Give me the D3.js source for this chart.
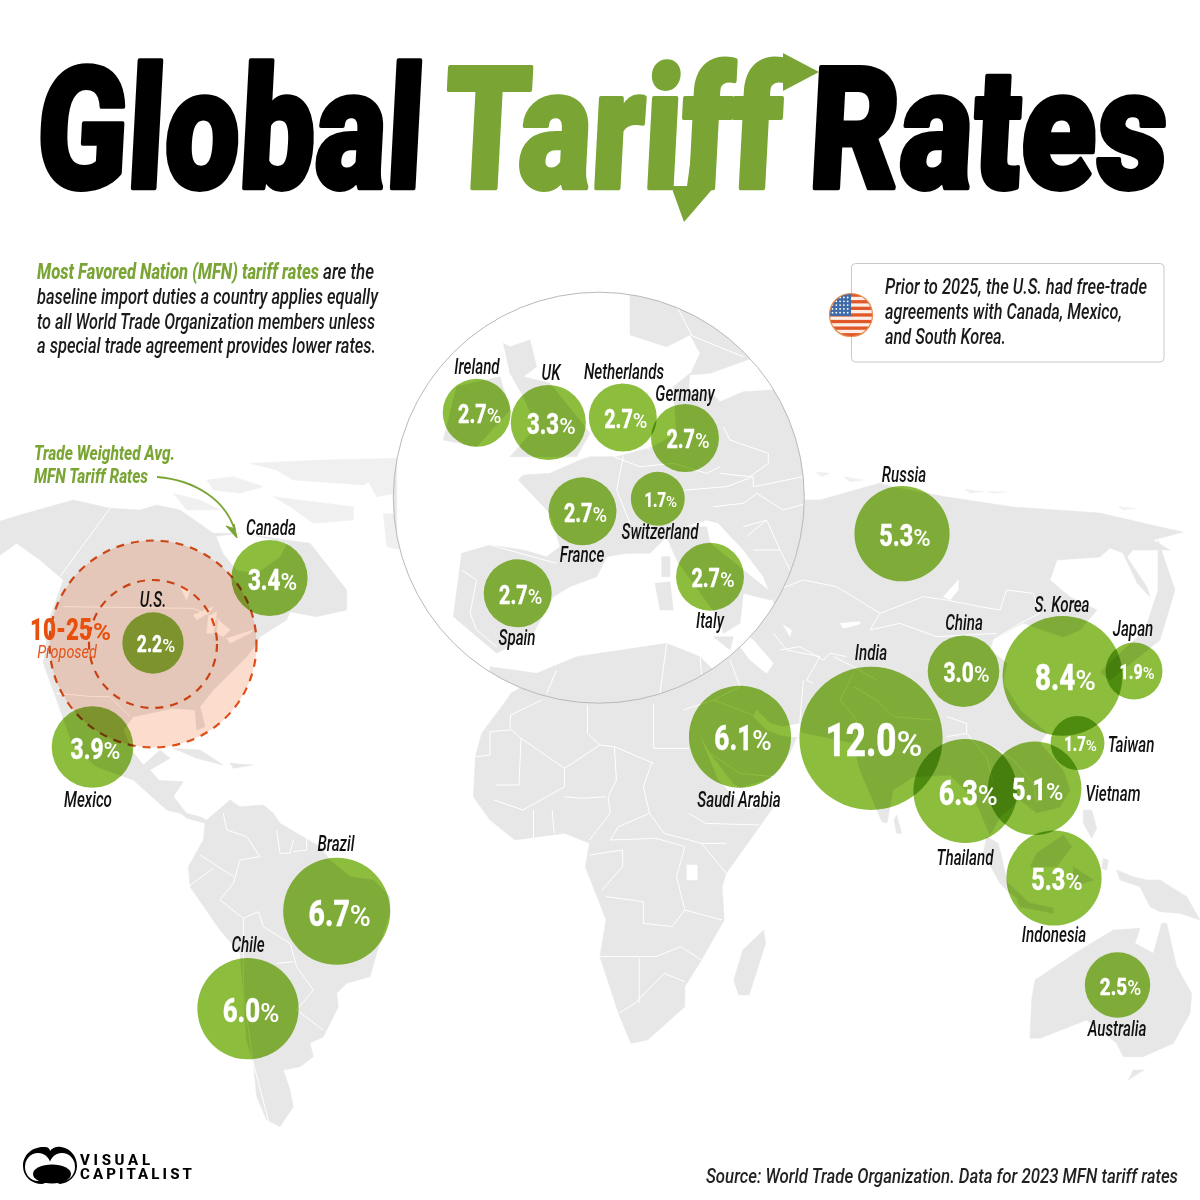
<!DOCTYPE html>
<html><head><meta charset="utf-8">
<script src="https://cdn.jsdelivr.net/npm/d3@7"></script>
<style>
html,body{margin:0;padding:0;background:#fff}
svg{display:block}
text{font-family:"Roboto",sans-serif}
.lbl{font-style:italic;font-size:22px;font-weight:500;fill:#111;text-anchor:middle}
.para{font-style:italic;font-size:22px;font-weight:500;fill:#1a1a1a}
</style></head><body>
<svg id="c" width="1200" height="1200" viewBox="0 0 1200 1200"></svg>
<script>
// ---------- data ----------
const countries = ["Canada","U.S.","Mexico","Russia","China","S. Korea","Japan","India","Taiwan","Vietnam","Thailand","Indonesia","Australia","Saudi Arabia","Brazil","Chile","Ireland","UK","Netherlands","Germany","France","Switzerland","Italy","Spain"];
const rates = [3.4,2.2,3.9,5.3,3.0,8.4,1.9,12.0,1.7,5.1,6.3,5.3,2.5,6.1,6.7,6.0,2.7,3.3,2.7,2.7,2.7,1.7,2.7,2.7];
// map anchors of the bubbles and their name labels (picture units)
const anchorX = [269.5,153,92.5,902,963.5,1062.5,1134,871,1077.5,1034.7,965.3,1054,1117.5,740,336.7,248,476.7,548.3,622.8,685,582.5,657.8,710,517.7];
const anchorY = [578,643,747,533.7,671.3,675.8,671,738.3,743,788.3,791,878,985,736.7,911.3,1008.7,412.8,422.5,417.5,438,511.3,498.8,576.7,593.3];
const nameX = [271,153,88,904,964,1062,1133,871,1131,1113,965,1054,1117,739,336,248,477,551,624,685,582,660,710,517];
const nameY = [535,607,807,482,630,612,636,660,752,801,865,942,1036,807,851,952,374,380,379,401,562,539,628,645];
const proposedRange = "10-25";
const titleWords = ["Global","Tariff","Rates"];
const introLines = ["baseline import duties a country applies equally","to all World Trade Organization members unless","a special trade agreement provides lower rates."];
const noteLines = ["Prior to 2025, the U.S. had free-trade","agreements with Canada, Mexico,","and South Korea."];

// ---------- base map outlines, each in the frame of a picture region ----------
const frames = {
  abs:[0,0,1,1], na:[0,430,1/3,1/3], af:[150,680,1/2.412,1/3], sa:[150,780,1/3,1/3],
  as:[780,450,1/3,1/3], au:[960,780,1/3,1/3], me:[640,620,1/3,1/3], eu:[390,260,1/3,1/3]
};
const worldLand = [
 ["na",[[-20,280],[60,255],[220,210],[330,235],[420,240],[470,225],[540,240],[640,310],[720,310],[860,330],[930,340],[1040,480],[1040,540],[950,560],[870,545],[860,570],[780,620],[770,640],[740,680],[700,720],[640,780],[600,830],[615,890],[590,900],[585,840],[520,835],[400,860],[370,900],[395,960],[430,1005],[480,960],[510,985],[450,1020],[520,1100],[560,1155],[500,1140],[400,1050],[290,1010],[220,950],[170,810],[130,700],[150,560],[190,450],[120,390],[50,340],[-20,390]]],
 ["sa",[[100,5],[70,50],[110,100],[150,110],[170,120],[240,60],[270,80],[340,75],[370,100],[390,130],[450,165],[510,200],[540,240],[600,290],[670,300],[720,350],[720,400],[680,520],[660,590],[590,610],[560,640],[565,680],[520,770],[480,790],[490,830],[450,860],[400,870],[420,930],[430,980],[390,1040],[350,1020],[320,950],[310,850],[290,780],[280,640],[270,520],[210,450],[120,320],[115,260],[160,180],[165,130],[110,115],[70,80],[40,30],[0,0]]],
 ["na",[[520,955],[600,960],[670,1005],[590,985]]],
 ["na",[[690,1000],[760,1005],[700,1015]]],
 ["af",[[870,40],[1000,-50],[1300,-50],[1300,50],[1295,70],[1330,180],[1370,300],[1440,390],[1510,370],[1470,440],[1390,580],[1380,620],[1385,720],[1330,840],[1290,920],[1290,980],[1200,1080],[1160,1090],[1130,1000],[1085,830],[1100,720],[1050,560],[1060,490],[1000,460],[880,480],[820,420],[780,350],[785,230],[800,160],[860,60]]],
 ["af",[[1480,750],[1485,790],[1445,945],[1420,945],[1408,900],[1430,810]]],
 ["abs",[[600,520],[760,500],[805,500],[820,500],[880,483],[893,487],[947,497],[1013,507],[1100,513],[1160,527],[1183,532],[1153,540],[1170,550],[1133,550],[1127,557],[1147,587],[1150,597],[1137,583],[1123,553],[1110,548],[1100,557],[1057,560],[1050,580],[1070,597],[1097,610],[1080,630],[1063,637],[1023,623],[993,640],[990,650],[1007,663],[1003,683],[1020,710],[1047,733],[1040,743],[1063,770],[1070,790],[1060,807],[1037,813],[1020,800],[1000,817],[990,835],[975,800],[950,775],[913,777],[893,790],[887,823],[882,822],[860,770],[853,743],[800,732],[790,727],[797,737],[790,753],[773,777],[740,788],[733,783],[710,753],[690,717],[683,707],[680,690],[660,680],[600,600]]],
 ["me",[[770,585],[785,640],[770,640],[762,600]]],
 ["au",[[80,170],[115,190],[150,340],[120,310],[70,220]]],
 ["au",[[230,220],[310,165],[335,200],[290,260],[210,260]]],
 ["au",[[145,310],[230,390],[190,370],[130,320]]],
 ["au",[[170,360],[280,385],[280,400],[180,380]]],
 ["au",[[340,260],[400,300],[340,320]]],
 ["au",[[470,270],[520,290],[560,300],[600,300],[680,350],[720,420],[660,400],[600,395],[570,380],[540,320],[480,300]]],
 ["au",[[370,90],[395,90],[410,145],[395,175],[370,130]]],
 ["au",[[430,235],[445,240],[440,270],[425,265]]],
 ["au",[[225,600],[345,520],[410,480],[460,450],[540,445],[525,490],[580,520],[605,430],[620,430],[650,560],[695,640],[690,700],[640,790],[550,830],[490,830],[470,790],[380,720],[240,775],[210,775],[215,660]]],
 ["au",[[520,870],[552,870],[505,900]]],
 ["abs",[[1158,540],[1175,590],[1160,640],[1110,680],[1100,672],[1145,630],[1158,590]]]
];
const arcticLand = [
 ["na",[[620,150],[700,140],[790,170],[720,190],[640,180]]],
 ["na",[[520,190],[600,210],[660,240],[560,240]]],
 ["na",[[820,200],[1060,230],[1060,270],[940,280],[870,230]]],
 ["na",[[750,100],[960,90],[1200,85],[1200,110],[1090,165],[880,150],[830,120]]],
 ["na",[[1080,110],[1300,70],[1300,170],[1130,200]]],
 ["na",[[1150,250],[1300,260],[1300,380],[1160,350]]],
 ["as",[[105,65],[150,70],[125,80]]],["as",[[190,80],[250,90],[210,95]]],
 ["as",[[555,118],[610,125],[570,130]]],["as",[[620,125],[680,125],[640,130]]],
 ["as",[[1015,170],[1065,175],[1030,180]]]
];
const worldWater = [
 ["na",[[650,320],[730,310],[860,340],[840,380],[770,430],[710,420],[670,370]]],
 ["na",[[625,560],[650,545],[640,610],[620,610]]],
 ["na",[[580,555],[640,530],[630,545],[590,570]]],
 ["na",[[655,570],[690,600],[670,620],[650,610]]],
 ["na",[[680,625],[760,600],[750,610],[690,640]]],
 ["na",[[540,470],[570,480],[560,510]]],
 ["me",[[285,20],[340,60],[400,130],[380,160],[330,120],[300,80]]],
 ["me",[[430,15],[455,30],[450,50]]],
 ["me",[[350,270],[390,310],[430,320],[480,310],[480,350],[455,350],[420,345],[380,330],[340,290]]],
 ["as",[[490,440],[535,390],[535,420],[510,450]]],
 ["as",[[180,520],[240,515],[240,522],[190,535]]],
 ["af",[[1295,555],[1320,555],[1320,600],[1295,600]]]
];
const worldBorders = [
 ["na",[[330,235],[180,440]]],["na",[[190,530],[580,535],[660,570]]],
 ["na",[[170,790],[280,800],[330,800],[390,860]]],
 ["af",[[1000,265],[895,175],[868,145],[870,105],[945,60]]],
 ["af",[[1000,265],[1085,195],[1120,200],[1215,250]]],
 ["af",[[1055,75],[1055,160],[1085,195]]],
 ["af",[[1215,205],[1215,70]]],["af",[[1215,205],[1300,205]]],
 ["af",[[785,230],[820,225],[820,155],[870,150]]],
 ["af",[[835,315],[890,315],[895,175]]],
 ["af",[[1000,265],[1000,320],[900,390],[830,360]]],
 ["af",[[1120,200],[1125,300],[1105,350],[1110,400],[1060,480]]],
 ["af",[[1000,350],[1040,355],[1100,350]]],
 ["af",[[925,390],[925,480]]],["af",[[970,390],[975,460]]],
 ["af",[[1210,250],[1190,320],[1205,400],[1240,460],[1330,490],[1390,490]]],
 ["af",[[1205,400],[1130,440],[1110,480]]],
 ["af",[[1110,480],[1220,475],[1290,500],[1270,590],[1290,690],[1320,700],[1380,720]]],
 ["af",[[1080,830],[1220,830]]],["af",[[1180,835],[1180,970]]],
 ["af",[[1100,650],[1190,665],[1190,730],[1260,740],[1290,690]]],
 ["af",[[1220,830],[1280,800],[1330,840]]],["af",[[1240,880],[1290,905]]],
 ["af",[[1240,880],[1170,970],[1130,1000]]],
 ["af",[[1330,490],[1390,580]]],["af",[[1300,400],[1340,430],[1470,435]]],
 ["af",[[1060,525],[1140,510],[1140,560],[1090,630]]],
 ["sa",[[220,100],[230,150],[290,170],[330,230],[270,240],[250,310],[210,360],[280,415],[325,395],[340,440],[420,490],[440,560],[490,630],[440,690]]],
 ["sa",[[150,225],[220,270],[250,290]]],["sa",[[115,320],[190,265]]],
 ["sa",[[380,150],[390,220],[420,220],[430,180]]],["sa",[[430,215],[470,210],[470,165]]],
 ["sa",[[440,690],[520,750]]],["sa",[[280,415],[280,640],[310,850],[360,1040]]],
 ["sa",[[380,550],[430,545]]],
 ["as",[[-60,440],[70,390],[170,410],[300,490],[430,440],[500,450],[600,470],[660,480],[680,420],[760,430],[780,490],[720,520],[640,570]]],
 ["as",[[300,490],[270,540],[360,520],[470,560],[650,550]]],
 ["as",[[0,600],[60,590],[130,630],[150,610],[200,620]]],
 ["as",[[160,620],[220,650],[290,690]]],
 ["as",[[500,800],[560,820],[560,850],[500,860]]],
 ["as",[[640,890],[700,930],[760,1000],[770,1060]]],
 ["as",[[560,850],[620,920],[640,1000]]],
 ["me",[[400,40],[440,90],[540,110],[500,180],[520,190]]],
 ["me",[[270,120],[300,200],[220,240],[300,270],[350,290]]],
 ["me",[[210,400],[300,460],[400,470]]],
 ["me",[[490,180],[480,300],[480,340]]],
 ["me",[[640,160],[600,240],[650,300],[640,370]]],
 ["me",[[640,200],[710,240],[760,290],[880,300]]],
 ["me",[[130,270],[220,240]]]
];
const insetLand = [
 [[190,1070],[215,880],[300,855],[400,870],[470,890],[510,860],[480,760],[385,660],[400,645],[480,640],[570,600],[600,590],[680,590],[790,560],[860,520],[850,380],[900,340],[895,400],[960,395],[990,425],[1060,395],[1300,380],[1300,1050],[1240,1090],[1210,1130],[1150,1120],[1180,1100],[1120,950],[1060,870],[985,790],[950,780],[880,800],[830,830],[780,880],[710,880],[650,890],[620,950],[540,980],[490,1010],[430,1120],[320,1180]],
 [[830,830],[880,800],[950,800],[960,850],[1060,930],[1160,1010],[1140,1020],[1060,1000],[1050,1090],[1000,1120],[990,1080],[860,900]],
 [[340,250],[360,260],[420,240],[440,320],[400,350],[480,370],[600,520],[560,590],[360,590],[440,500],[400,410],[360,340]],
 [[200,380],[330,350],[360,450],[260,560],[160,540]],
 [[720,105],[1000,100],[1100,290],[960,340],[900,345],[930,280],[900,225],[830,260],[720,225]],
 [[300,1220],[440,1240],[560,1190],[830,1150],[930,1190],[1000,1260],[1100,1220],[1200,1300],[1300,1400],[300,1400]],
 [[815,890],[840,890],[840,950],[815,950]],
 [[795,970],[840,965],[850,1050],[810,1050]],
 [[970,1130],[1030,1130],[1020,1170]],
 [[-40,590],[20,600],[20,880],[-40,860]]
];
const insetBorders = [
 [[670,590],[750,620],[850,610],[950,640],[990,620]],
 [[1000,500],[1020,540],[1135,580],[1135,610],[1080,650],[990,640]],
 [[885,690],[1010,680],[1090,650],[1090,680],[1240,650]],
 [[970,740],[1060,730],[1100,700],[1180,750],[1250,730]],
 [[1060,800],[1130,780],[1170,870]],
 [[1130,780],[1070,830]],
 [[1090,870],[1170,870],[1200,930]],
 [[215,930],[260,960],[240,1060],[260,1110],[320,1160]],
 [[300,855],[500,910]],
 [[840,100],[905,225]],
 [[500,1230],[470,1300]],[[830,1150],[810,1300]],[[930,1190],[940,1300]],
 [[640,470],[780,570]],
 [[700,590],[680,690],[720,790]],
 [[900,225],[1060,290]]
];

// ---------- helpers ----------
const svg = d3.select("#c");
const GREEN="#7aa535", ORANGE="#e2531a";
const px = (f,p)=>{const [x0,y0,sx,sy]=frames[f];
  const X=d3.scaleLinear().domain([0,1]).range([x0,x0+sx]), Y=d3.scaleLinear().domain([0,1]).range([y0,y0+sy]);
  return p.map(d=>[X(d[0]),Y(d[1])]);};
const line=d3.line().curve(d3.curveLinear);
const poly=(g,f,p,fill)=>g.append("path").attr("d",line(px(f,p))+"Z").attr("fill",fill).attr("stroke",fill).attr("stroke-width",.5).attr("stroke-linejoin","round");
const stroke=(g,f,p)=>g.append("path").attr("d",line(px(f,p))).attr("fill","none").attr("stroke","#fff").attr("stroke-width",1);
const LAND="#e7e7e7";

// ---------- world map ----------
const gMap=svg.append("g");
arcticLand.forEach(([f,p])=>poly(gMap,f,p,"#f0f0f0"));
worldLand.forEach(([f,p])=>poly(gMap,f,p,LAND));
worldBorders.forEach(([f,p])=>stroke(gMap,f,p));
worldWater.forEach(([f,p])=>poly(gMap,f,p,"#fff"));

// ---------- Europe inset ----------
const insetC=[598.8,497.7], insetR=205.5;
svg.append("defs").append("clipPath").attr("id","ins").append("circle").attr("cx",insetC[0]).attr("cy",insetC[1]).attr("r",insetR);
svg.append("circle").attr("cx",insetC[0]).attr("cy",insetC[1]).attr("r",insetR).attr("fill","#fff");
const gIns=svg.append("g").attr("clip-path","url(#ins)");
insetLand.forEach(p=>poly(gIns,"eu",p,LAND));
insetBorders.forEach(p=>stroke(gIns,"eu",p));
svg.append("circle").attr("cx",insetC[0]).attr("cy",insetC[1]).attr("r",insetR).attr("fill","none").attr("stroke","#b9b9b9").attr("stroke-width",1);

// ---------- proposed rings ----------
const r=d3.scaleSqrt().domain([0,12]).range([0,71.6]);
const ringC=[153,644];
svg.append("circle").attr("cx",ringC[0]).attr("cy",ringC[1]).attr("r",103.5).attr("fill","#fcdccc").style("mix-blend-mode","multiply");

// ---------- bubbles ----------
const gB=svg.append("g");
gB.selectAll("circle").data(countries).join("circle")
  .attr("cx",(d,i)=>anchorX[i]).attr("cy",(d,i)=>anchorY[i]).attr("r",(d,i)=>r(rates[i]))
  .attr("fill","#8cbd3d").style("mix-blend-mode","multiply");

// dashed rings drawn over bubbles
[103.5,64].forEach(R=>svg.append("circle").attr("cx",ringC[0]).attr("cy",ringC[1]).attr("r",R).attr("fill","none").attr("stroke",ORANGE).attr("stroke-width",2.2).attr("stroke-dasharray","8 7").style("mix-blend-mode","multiply"));

// value labels: condensed bold number, lighter wider percent sign
const capSize=d3.scaleLinear().domain([27,34,38,48,54,60,72]).range([14,18.5,21,22,27,26,33]);
const gV=svg.append("g").attr("fill","#fff");
countries.forEach((c,i)=>{
  const cap=capSize(r(rates[i])), fs=cap/0.711, k=0.76;
  const g=gV.append("g");
  const n=g.append("text").attr("font-size",fs).attr("font-weight",800).attr("stroke","#fff").attr("stroke-width",fs*0.012).text(rates[i].toFixed(1));
  const p=g.append("text").attr("font-size",fs*.78).attr("font-weight",500).text("%");
  const w1=n.node().getComputedTextLength()*k, w2=p.node().getComputedTextLength()*.98;
  const x0=anchorX[i]+3-(w1+w2)/2, y=anchorY[i]+cap/2+1;
  n.attr("transform",`translate(${x0},${y}) scale(${k},1)`);
  p.attr("transform",`translate(${x0+w1},${y}) scale(.98,1)`);
});
// name labels
svg.append("g").selectAll("text").data(countries).join("text").attr("class","lbl")
  .attr("transform",(d,i)=>`translate(${nameX[i]},${nameY[i]}) scale(.69,1)`).text(d=>d);

// ---------- title ----------
const titleT=svg.append("g");
const titleSpec=[[34,387,"#000"],[441,338,GREEN],[807,358,"#000"]];
titleWords.forEach((w,i)=>{
  titleT.append("text").attr("transform",`translate(${titleSpec[i][0]},188) skewX(-3)`)
   .attr("textLength",titleSpec[i][1]).attr("lengthAdjust","spacingAndGlyphs")
   .style("font-weight",900).attr("font-size",170)
   .attr("fill",titleSpec[i][2]).attr("stroke",titleSpec[i][2]).attr("stroke-width",4.5).attr("stroke-linejoin","round").text(w);
});
// arrows on Tariff
titleT.append("path").attr("d","M783 53L819 72L783 91L783 80C770 80 768 88 766 100L752 100C754 78 762 64 783 64Z").attr("fill",GREEN);
titleT.append("path").attr("d","M671 186L687 186L692 150L705 150L702 186L715 186L684 222Z").attr("fill",GREEN);

// ---------- intro paragraph ----------
svg.append("text").attr("class","para").attr("x",37).attr("y",279).attr("textLength",282).attr("lengthAdjust","spacingAndGlyphs").style("font-weight",800).style("fill",GREEN).text("Most Favored Nation (MFN) tariff rates");
svg.append("text").attr("class","para").attr("x",323).attr("y",279).attr("textLength",51).attr("lengthAdjust","spacingAndGlyphs").text("are the");
const introW=[341,338,339];
introLines.forEach((l,i)=>svg.append("text").attr("class","para").attr("x",37).attr("y",304+i*24.7).attr("textLength",introW[i]).attr("lengthAdjust","spacingAndGlyphs").text(l));

// ---------- note box ----------
svg.append("rect").attr("x",851.5).attr("y",263.5).attr("width",312.5).attr("height",98.5).attr("rx",4).attr("fill","#fff").attr("stroke","#c8c8c8");
const noteW=[262,237,121];
noteLines.forEach((l,i)=>svg.append("text").attr("class","para").attr("x",885).attr("y",294+i*25).attr("textLength",noteW[i]).attr("lengthAdjust","spacingAndGlyphs").text(l));
// flag
const flagC=[851,315], flagR=21.5;
const defs=svg.select("defs");
defs.append("clipPath").attr("id","fl").append("circle").attr("cx",flagC[0]).attr("cy",flagC[1]).attr("r",flagR);
const fl=svg.append("g").attr("clip-path","url(#fl)");
fl.append("rect").attr("x",flagC[0]-flagR).attr("y",flagC[1]-flagR).attr("width",flagR*2).attr("height",flagR*2).attr("fill","#fbeee6");
d3.range(7).forEach(i=>fl.append("rect").attr("x",flagC[0]-flagR).attr("y",flagC[1]-flagR+i*6.6).attr("width",flagR*2).attr("height",3.3).attr("fill","#e0582a"));
fl.append("rect").attr("x",flagC[0]-flagR).attr("y",flagC[1]-flagR).attr("width",flagR).attr("height",flagR+1).attr("fill","#3e6aa8");
d3.range(5).forEach(a=>d3.range(5).forEach(b=>fl.append("circle").attr("cx",flagC[0]-flagR+3+a*3.8).attr("cy",flagC[1]-flagR+4+b*3.8).attr("r",.9).attr("fill","#fff")));
svg.append("circle").attr("cx",flagC[0]).attr("cy",flagC[1]).attr("r",flagR).attr("fill","none").attr("stroke","#e88a4a").attr("stroke-width",1.2);

// ---------- annotation ----------
const ann=svg.append("g").style("fill",GREEN).style("font-weight",800).style("font-style","italic").attr("font-size",21);
ann.append("text").attr("x",34).attr("y",460).attr("textLength",141).attr("lengthAdjust","spacingAndGlyphs").text("Trade Weighted Avg.");
ann.append("text").attr("x",34).attr("y",483).attr("textLength",114).attr("lengthAdjust","spacingAndGlyphs").text("MFN Tariff Rates");
svg.append("path").attr("d","M157 477C195 480 226 500 235 531").attr("fill","none").attr("stroke",GREEN).attr("stroke-width",1.8);
svg.append("path").attr("d","M237 538L226 526L235 529L234 524Z").attr("fill",GREEN).attr("stroke",GREEN);

// proposed
svg.append("text").attr("x",30).attr("y",640).attr("textLength",62).attr("lengthAdjust","spacingAndGlyphs").attr("font-size",32).attr("font-weight",900).attr("fill","#e8500e").text(proposedRange);
svg.append("text").attr("x",93).attr("y",640).attr("textLength",18).attr("lengthAdjust","spacingAndGlyphs").attr("font-size",23).attr("font-weight",700).attr("fill","#e8500e").text("%");
svg.append("text").attr("transform","translate(67,657.5) scale(.8,1)").attr("text-anchor","middle").attr("font-size",18).attr("font-style","italic").attr("fill",ORANGE).text("Proposed");

// ---------- logo and source ----------
const logo=svg.append("g");
logo.append("path").attr("d","M23 1166C23 1152 36 1146 45 1147C48 1147 50 1149 50 1151C52 1148 57 1146 61 1147C70 1148 77 1156 77 1166C77 1176 69 1183 60 1184L52 1181L42 1184C32 1184 23 1177 23 1166Z").attr("fill","#000");
logo.append("ellipse").attr("cx",38).attr("cy",1167).attr("rx",13).attr("ry",14).attr("fill","#fff");
logo.append("ellipse").attr("cx",62).attr("cy",1167).attr("rx",13).attr("ry",14).attr("fill","#fff");
logo.append("ellipse").attr("cx",52).attr("cy",1174).attr("rx",19).attr("ry",9.5).attr("fill","#000");
const lt=svg.append("g").style("font-family","Inter").style("font-weight",800).attr("font-size",15).attr("fill","#000");
lt.append("text").attr("x",80).attr("y",1165).attr("textLength",70).attr("lengthAdjust","spacing").text("VISUAL");
lt.append("text").attr("x",80).attr("y",1179).attr("textLength",112).attr("lengthAdjust","spacing").text("CAPITALIST");
svg.append("text").attr("x",706).attr("y",1183).attr("textLength",472).attr("lengthAdjust","spacingAndGlyphs").attr("font-size",21).attr("font-style","italic").attr("font-weight",500).attr("fill","#222").text("Source: World Trade Organization. Data for 2023 MFN tariff rates");
</script>
</body></html>
